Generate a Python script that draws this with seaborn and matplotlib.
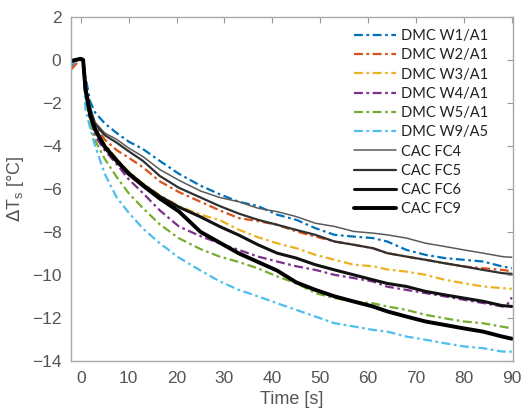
import numpy as np
import pandas as pd
import matplotlib
matplotlib.use("Agg")
import matplotlib.pyplot as plt
import seaborn as sns

# ---- data ----
time = [-2, -1, 0, 0.5, 1, 2, 3, 5, 7.5, 10, 13, 16.5, 20.5, 25, 29, 33, 37, 41,
        45, 49, 53, 57, 61, 64, 68, 72, 76, 80, 84, 88, 89, 90]

dmc_w1_a1 = [-0.3, 0.0, 0.05, 0.0, -0.8, -1.95, -2.45, -2.95, -3.4, -3.8, -4.15, -4.7,
             -5.3, -5.85, -6.25, -6.6, -6.8, -7.2, -7.44, -7.83, -8.14, -8.22, -8.29,
             -8.45, -8.84, -9.07, -9.22, -9.3, -9.38, -9.61, -9.65, -9.7]
dmc_w2_a1 = [-0.45, -0.2, 0.0, -0.05, -1.2, -2.4, -3.1, -3.7, -4.2, -4.55, -5.0, -5.65,
             -6.15, -6.6, -7.0, -7.36, -7.5, -7.67, -7.98, -8.22, -8.45, -8.6, -8.76,
             -8.99, -9.15, -9.3, -9.46, -9.61, -9.69, -9.77, -9.8, -9.85]
dmc_w3_a1 = [-0.1, 0.0, 0.05, 0.0, -1.3, -2.55, -3.2, -3.9, -4.6, -5.2, -5.75, -6.3,
             -6.8, -7.2, -7.45, -7.9, -8.25, -8.53, -8.76, -9.07, -9.3, -9.53, -9.6,
             -9.75, -9.85, -10.0, -10.23, -10.39, -10.54, -10.62, -10.63, -10.65]
dmc_w4_a1 = [-0.1, 0.0, 0.05, 0.0, -1.5, -2.8, -3.55, -4.2, -4.85, -5.55, -6.2, -7.0,
             -7.75, -8.2, -8.53, -8.84, -9.15, -9.38, -9.6, -9.77, -10.0, -10.15, -10.31,
             -10.55, -10.7, -10.85, -11.0, -11.16, -11.31, -11.47, -11.4, -11.05]
dmc_w5_a1 = [-0.1, 0.0, 0.05, 0.0, -1.7, -3.0, -3.75, -4.6, -5.45, -6.2, -6.9, -7.65,
             -8.3, -8.8, -9.15, -9.4, -9.7, -10.07, -10.39, -10.85, -11.08, -11.24, -11.32,
             -11.47, -11.63, -11.86, -12.02, -12.17, -12.25, -12.41, -12.45, -12.49]
dmc_w9_a5 = [-0.2, 0.0, 0.05, 0.0, -2.3, -3.2, -4.0, -5.3, -6.4, -7.1, -7.85, -8.53,
             -9.2, -9.8, -10.3, -10.7, -11.0, -11.32, -11.63, -11.94, -12.25, -12.4, -12.56,
             -12.64, -12.87, -13.02, -13.18, -13.33, -13.41, -13.57, -13.57, -13.57]
cac_fc4 = [-0.1, 0.0, 0.05, 0.0, -1.1, -2.2, -2.9, -3.4, -3.7, -4.1, -4.5, -5.1,
           -5.6, -6.1, -6.4, -6.6, -6.9, -7.06, -7.29, -7.6, -7.75, -7.98, -8.06,
           -8.14, -8.29, -8.53, -8.68, -8.84, -8.99, -9.15, -9.17, -9.18]
cac_fc5 = [-0.1, 0.0, 0.05, 0.0, -1.2, -2.3, -3.0, -3.5, -3.85, -4.25, -4.7, -5.4,
           -5.95, -6.4, -6.8, -7.15, -7.44, -7.67, -7.91, -8.14, -8.45, -8.6, -8.76,
           -8.99, -9.15, -9.3, -9.46, -9.61, -9.77, -9.92, -9.94, -9.95]
cac_fc6 = [-0.05, 0.0, 0.05, 0.0, -1.4, -2.6, -3.2, -4.0, -4.65, -5.25, -5.8, -6.35,
           -6.85, -7.3, -7.75, -8.15, -8.6, -8.99, -9.22, -9.53, -9.77, -10.0, -10.23,
           -10.4, -10.54, -10.77, -10.93, -11.08, -11.23, -11.43, -11.45, -11.47]
cac_fc9 = [-0.05, 0.0, 0.05, 0.0, -1.4, -2.6, -3.25, -4.05, -4.7, -5.3, -5.85, -6.45,
           -7.05, -8.0, -8.5, -9.0, -9.4, -9.8, -10.35, -10.7, -11.0, -11.24, -11.47,
           -11.7, -11.94, -12.17, -12.33, -12.49, -12.64, -12.87, -12.92, -12.97]

labels = ["DMC W1/A1", "DMC W2/A1", "DMC W3/A1", "DMC W4/A1", "DMC W5/A1",
          "DMC W9/A5", "CAC FC4", "CAC FC5", "CAC FC6", "CAC FC9"]
series = [dmc_w1_a1, dmc_w2_a1, dmc_w3_a1, dmc_w4_a1, dmc_w5_a1, dmc_w9_a5,
          cac_fc4, cac_fc5, cac_fc6, cac_fc9]
x_ticks = [0, 10, 20, 30, 40, 50, 60, 70, 80, 90]
y_ticks = [-14, -12, -10, -8, -6, -4, -2, 0, 2]

# ---- styles ----
colors = ["#0072BD", "#D95319", "#EDB120", "#7E2F8E", "#77AC30", "#4DBEEE",
          "#5a5a5a", "#303030", "#111111", "#000000"]
widths = [1.6, 1.6, 1.6, 1.6, 1.6, 1.6, 1.1, 1.6, 2.2, 2.8]
dashed = [True] * 6 + [False] * 4

sns.set_style("white")
plt.rcParams["font.family"] = ["Liberation Sans", "DejaVu Sans"]

df = pd.concat([pd.DataFrame({"Time": time, "dT": s, "series": lab})
                for s, lab in zip(series, labels)], ignore_index=True)

fig = plt.figure(figsize=(5.27, 4.11), dpi=100)
ax = fig.add_axes([0.135, 0.122, 0.838, 0.837])

for lab, c, w, d in zip(labels, colors, widths, dashed):
    sub = df[df["series"] == lab]
    ls = (0, (4, 1.6, 1.2, 1.6)) if d else "-"
    sns.lineplot(data=sub, x="Time", y="dT", ax=ax, color=c, lw=w,
                 linestyle=ls, label=lab, sort=False)

ax.set_xlim(-2, 90.2)
ax.set_ylim(-14, 2)
ax.set_xticks(x_ticks)
ax.set_yticks(y_ticks)
ax.tick_params(direction="in", length=4, width=0.8, color="#9a9a9a",
               labelsize=12.5, labelcolor="#555555", top=True, right=True,
               labeltop=False, labelright=False, pad=7)
for sp in ax.spines.values():
    sp.set_color("#a8a8a8")
    sp.set_linewidth(1.0)

ax.set_xlabel("Time [s]", fontsize=13, color="#555555", labelpad=4)
ax.set_ylabel(r"$\Delta$T$_\mathregular{s}$ [°C]", fontsize=13,
              color="#555555", labelpad=4)

leg = ax.legend(loc="upper left", bbox_to_anchor=(0.62, 0.99), frameon=False,
                prop={"family": ["Lato", "DejaVu Sans"], "size": 10.5},
                handlelength=2.9, handletextpad=0.35, labelspacing=0.36,
                borderaxespad=0.2)
for t in leg.get_texts():
    t.set_color("#222222")

fig.savefig("out.png", dpi=100)
